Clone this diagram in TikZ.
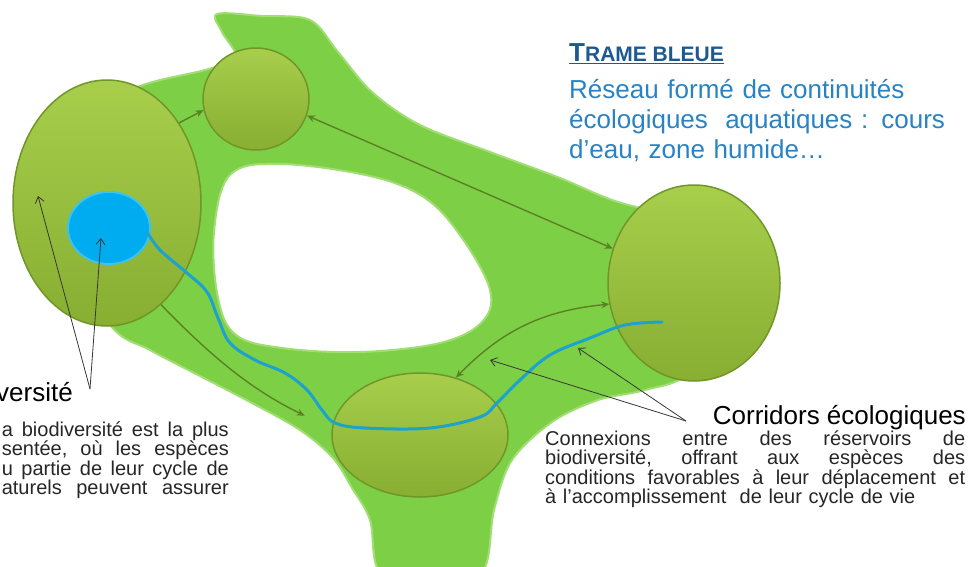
\documentclass[tikz,border=0pt]{standalone}
\usepackage{fontspec}
\setmainfont{Liberation Sans}
\usepackage{xcolor}
\usetikzlibrary{positioning,shapes.geometric,arrows.meta}

\definecolor{bandgreen}{RGB}{125,208,70}
\definecolor{bandedge}{RGB}{160,222,115}
\definecolor{olivetop}{RGB}{168,206,76}
\definecolor{olivebot}{RGB}{136,174,50}
\definecolor{olivedraw}{RGB}{112,150,42}
\definecolor{corridorcol}{RGB}{92,128,36}
\definecolor{rivercol}{RGB}{28,162,205}
\definecolor{pondcol}{RGB}{0,172,240}
\definecolor{pondedge}{RGB}{60,195,235}
\definecolor{bluetext}{RGB}{40,130,195}
\definecolor{bluetitle}{RGB}{28,88,145}
\definecolor{labelgray}{RGB}{55,55,55}

\begin{document}
\begin{tikzpicture}[x=1pt,y=-1pt,
  reservoir/.style={ellipse, draw=olivedraw, line width=1.5pt, top color=olivetop, bottom color=olivebot, inner sep=0pt},
  corridor/.style={draw=corridorcol, line width=1.4pt, >={Stealth[length=8pt,width=7pt]}},
  pointer/.style={draw=labelgray, line width=0.8pt, -{Straight Barb[length=6pt,width=9pt]}},
  bigtext/.style={font=\fontsize{26}{30}\selectfont, inner sep=0pt},
  smalltext/.style={font=\fontsize{20}{19.5}\selectfont, text=black!85, inner sep=0pt}]
\useasboundingbox (0,0) rectangle (971,567);

% Green network with its hole
\fill[bandgreen, even odd rule, draw=bandedge, line width=2pt]
  plot[smooth cycle, tension=0.55] coordinates {
    (217,14) (262,16) (310,20) (338,52) (372,92) (420,125) (490,152)
    (560,178) (612,200) (700,230) (740,300) (690,372) (645,390) (598,400)
    (552,422) (512,460) (494,510) (482,572) (430,578) (380,572) (370,520)
    (352,488) (333,458) (300,430) (250,402) (200,376) (150,350) (110,325)
    (50,230) (70,120) (140,86) (205,70) (236,58) (222,32)}
  plot[smooth cycle, tension=0.6] coordinates {
    (230,175) (280,164) (370,176) (425,198) (462,238) (490,290) (482,322)
    (440,343) (360,352) (282,348) (236,335) (218,298) (214,232)};

% Reservoirs
\node[reservoir, minimum width=188pt, minimum height=246pt] (left) at (107,203) {};
\node[reservoir, minimum width=106pt, minimum height=102pt] (top) at (256,99) {};
\node[reservoir, minimum width=172pt, minimum height=196pt] (right) at (694,283) {};
\node[reservoir, minimum width=176pt, minimum height=124pt] (bottom) at (420,435) {};

% Pond and river
\node[ellipse, fill=pondcol, draw=pondedge, line width=2pt, minimum width=82pt, minimum height=72pt, inner sep=0pt] (pond) at (109,228) {};
\draw[rivercol, line width=3pt, line cap=round]
  plot[smooth, tension=0.6] coordinates {
    (147,232) (160,250) (187,273) (207,292) (218,318) (230,343) (255,360)
    (285,373) (307,390) (322,410) (335,423) (365,428) (430,428) (480,417)
    (497,403) (520,380) (550,355) (590,338) (625,325) (662,322)};

% Corridors between reservoirs
\draw[corridor,->] (left.48) -- (top.192);
\draw[corridor,<->] (top.-18) -- (right.157);
\draw[corridor,->,shorten >=30pt] (left.-62) to[bend right=10] (bottom.176);
\draw[corridor,<->] (bottom.58) to[bend left=20] (right.194);

% Labels
\node[bigtext, anchor=base east] (resLabel) at (73,401) {versité};
\node[smalltext, text width=227pt, align=right, anchor=base east] (resText) at (229,436) {%
  \makebox[227pt]{a\hfill biodiversité\hfill est\hfill la\hfill plus}\\
  \makebox[227pt]{sentée,\hfill où\hfill les\hfill espèces}\\
  \makebox[227pt]{u\hfill partie\hfill de\hfill leur\hfill cycle\hfill de}\\
  \makebox[227pt]{aturels\hfill peuvent\hfill assurer}};

\node[bigtext, anchor=base east] (corLabel) at (966,424) {Corridors écologiques};
\node[smalltext, text width=420pt, align=left, anchor=base west] (corText) at (545,445) {%
  \makebox[420pt]{Connexions\hfill entre\hfill des\hfill réservoirs\hfill de}\\
  \makebox[420pt]{biodiversité,\hfill offrant\hfill aux\hfill espèces\hfill des}\\
  \makebox[420pt]{conditions\hfill favorables\hfill à\hfill leur\hfill déplacement\hfill et}\\
  à l'accomplissement\ \ de leur cycle de vie};

\node[text=bluetitle, inner sep=0pt, anchor=base west, font=\bfseries\fontsize{21}{24}\selectfont] (blueTitle) at (569,62)
  {\underline{{\fontsize{26}{26}\selectfont T}RAME BLEUE}};
\node[bigtext, text=bluetext, text width=400pt, align=left, anchor=base west] (blueText) at (569,99) {%
  Réseau formé de continuités\\
  écologiques\ \ aquatiques : cours\\
  d'eau, zone humide\ldots};

% Pointers from the labels
\coordinate (resApex) at (90,389);
\coordinate (resTipA) at (38,196);
\coordinate (resTipB) at (101,238);
\coordinate (corApex) at (686,421);
\coordinate (corTipA) at (490,360);
\coordinate (corTipB) at (578,348);
\foreach \t in {resTipA,resTipB} \draw[pointer] (resApex) -- (\t);
\foreach \t in {corTipA,corTipB} \draw[pointer] (corApex) -- (\t);
\end{tikzpicture}
\end{document}
